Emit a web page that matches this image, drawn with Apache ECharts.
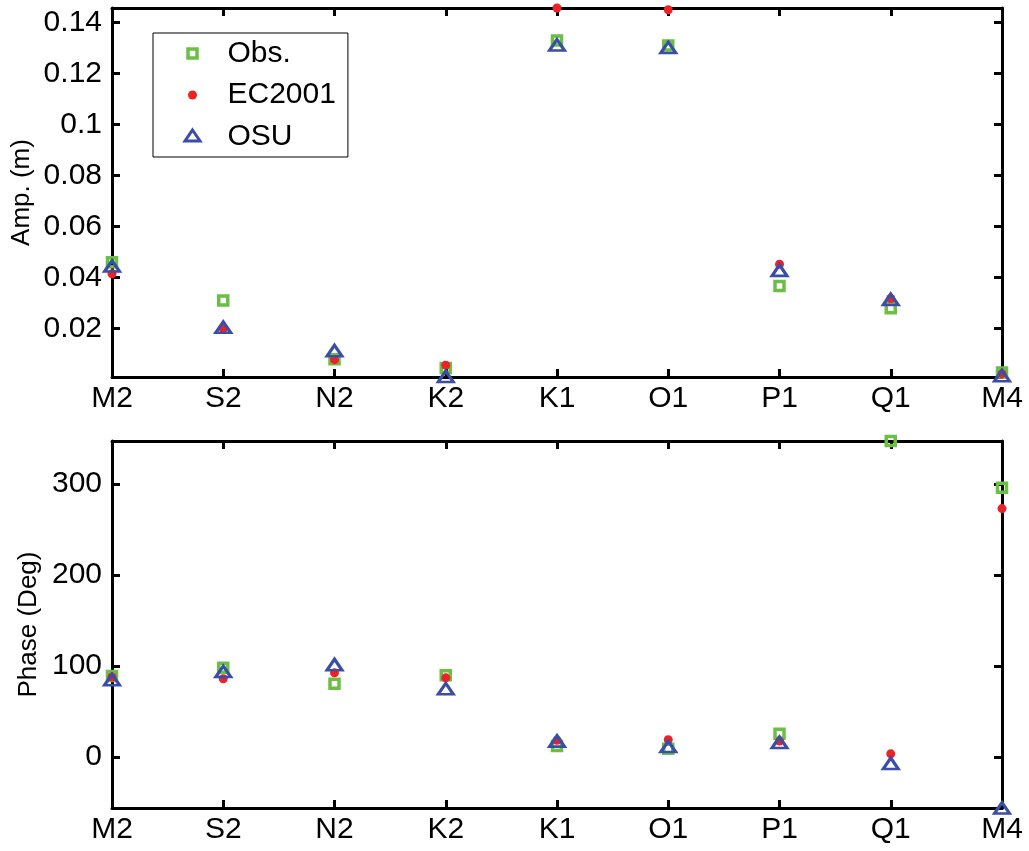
<!DOCTYPE html>
<html>
<head>
<meta charset="utf-8">
<script src="https://cdn.jsdelivr.net/npm/echarts@6/dist/echarts.min.js"></script>
<style>
  html, body { margin: 0; padding: 0; background: #ffffff; }
  #chart { width: 1029px; height: 851px; }
</style>
</head>
<body>
<div id="chart"></div>
<script>
// Tidal constituents along the x axis
const constituents = ['M2', 'S2', 'N2', 'K2', 'K1', 'O1', 'P1', 'Q1', 'M4'];

// Amplitudes (m)
const obsAmp = [0.0460, 0.0310, 0.0080, 0.0045, 0.1330, 0.1310, 0.0367, 0.0280, 0.0028];
const ec2001Amp = [0.0415, 0.0200, 0.0078, 0.0056, 0.1457, 0.1450, 0.0452, 0.0318, 0.0023];
const osuAmp = [0.0445, 0.0205, 0.0113, 0.0012, 0.1312, 0.1302, 0.0428, 0.0314, 0.0015];

// Phases (degrees)
const obsPhase = [89, 98, 80.5, 90, 12, 9, 25.5, 347.3, 296];
const ec2001Phase = [88, 86, 92.5, 87, 18.5, 19, 17.5, 3.5, 273];
const osuPhase = [85, 94, 101.5, 75, 17.5, 11.5, 16, -7, -56];

// Axis extents (tight to the data) and tick labels
const ampRange = [0.001, 0.1457];
const ampTickValues = [0.02, 0.04, 0.06, 0.08, 0.10, 0.12, 0.14];
const ampTickLabels = ['0.02', '0.04', '0.06', '0.08', '0.1', '0.12', '0.14'];
const phaseRange = [-56, 347.3];
const phaseTickValues = [0, 100, 200, 300];
const phaseTickLabels = ['0', '100', '200', '300'];

const FONT = "'Liberation Sans', Arial, Helvetica, sans-serif";
const GREEN = '#6cbf45';
const RED = '#ee2226';
const BLUE = '#3a4ea6';
const LINE_W = 3;

function labelFor(values, labels) {
  return function (v) {
    const i = values.findIndex(t => Math.abs(t - v) < 1e-9);
    return i >= 0 ? labels[i] : '';
  };
}

function categoryAxis(gridIndex, position, showLabels) {
  return {
    type: 'category',
    gridIndex: gridIndex,
    position: position,
    data: constituents,
    boundaryGap: false,
    axisLine: { show: true, onZero: false, lineStyle: { color: '#000', width: LINE_W } },
    axisTick: { show: true, inside: true, length: 8, interval: 0, lineStyle: { color: '#000', width: LINE_W } },
    axisLabel: {
      show: showLabels, interval: 0, margin: 7,
      color: '#000', fontSize: 30, fontFamily: FONT
    },
    splitLine: { show: false }
  };
}

function valueAxis(gridIndex, position, range, tickValues, tickLabels, name, nameGap) {
  const showLabels = position === 'left';
  const axis = {
    type: 'value',
    gridIndex: gridIndex,
    position: position,
    min: range[0],
    max: range[1],
    axisLine: { show: true, onZero: false, lineStyle: { color: '#000', width: LINE_W } },
    axisTick: {
      show: true, inside: true, length: 8, customValues: tickValues,
      lineStyle: { color: '#000', width: LINE_W }
    },
    axisLabel: {
      show: showLabels, margin: 10, customValues: tickValues,
      formatter: labelFor(tickValues, tickLabels),
      color: '#000', fontSize: 30, fontFamily: FONT
    },
    splitLine: { show: false }
  };
  if (name) {
    axis.name = name;
    axis.nameLocation = 'middle';
    axis.nameGap = nameGap;
    axis.nameMoveOverlap = false;
    axis.nameTextStyle = { color: '#000', fontSize: 26, fontFamily: FONT };
  }
  return axis;
}

function scatterSeries(name, values, xIdx, yIdx) {
  const base = {
    name: name,
    type: 'scatter',
    xAxisIndex: xIdx,
    yAxisIndex: yIdx,
    data: values,
    clip: false,
    silent: true,
    emphasis: { disabled: true }
  };
  if (name === 'Obs.') {
    return Object.assign(base, {
      symbol: 'rect', symbolSize: 9,
      itemStyle: { color: 'none', borderColor: GREEN, borderWidth: 3.5, opacity: 1 }
    });
  }
  if (name === 'EC2001') {
    return Object.assign(base, {
      symbol: 'circle', symbolSize: 9,
      itemStyle: { color: RED, borderWidth: 0, opacity: 1 }
    });
  }
  return Object.assign(base, {
    symbol: 'triangle', symbolSize: [15, 11],
    itemStyle: { color: 'none', borderColor: BLUE, borderWidth: 3, borderJoin: 'miter', opacity: 1 }
  });
}

const chart = echarts.init(document.getElementById('chart'), null, { renderer: 'canvas' });

chart.setOption({
  backgroundColor: '#ffffff',
  animation: false,
  grid: [
    { left: 112, right: 27, top: 8, height: 369, outerBoundsMode: 'none', containLabel: false },
    { left: 112, right: 27, top: 441, height: 367, outerBoundsMode: 'none', containLabel: false }
  ],
  xAxis: [
    categoryAxis(0, 'bottom', true),
    categoryAxis(0, 'top', false),
    categoryAxis(1, 'bottom', true),
    categoryAxis(1, 'top', false)
  ],
  yAxis: [
    valueAxis(0, 'left', ampRange, ampTickValues, ampTickLabels, 'Amp. (m)', 77),
    valueAxis(0, 'right', ampRange, ampTickValues, ampTickLabels, null, 0),
    valueAxis(1, 'left', phaseRange, phaseTickValues, phaseTickLabels, 'Phase (Deg)', 70),
    valueAxis(1, 'right', phaseRange, phaseTickValues, phaseTickLabels, null, 0)
  ],
  legend: {
    orient: 'vertical',
    left: 153,
    top: 33,
    padding: [3, 12, 3, 22],
    itemGap: 9,
    itemWidth: 60,
    itemHeight: 30,
    selectedMode: false,
    borderColor: '#000',
    borderWidth: 1,
    backgroundColor: '#fff',
    itemStyle: { opacity: 1 },
    textStyle: { color: '#000', fontSize: 30, fontFamily: FONT, lineHeight: 30 },
    data: [
      {
        name: 'Obs.',
        icon: 'path://M0,0M30,30M10.5,10.5L19.5,10.5L19.5,19.5L10.5,19.5Z',
        itemStyle: { color: 'none', borderColor: GREEN, borderWidth: 3.5, opacity: 1 }
      },
      {
        name: 'EC2001',
        icon: 'path://M0,0M30,30M19.5,15A4.5,4.5,0,1,1,10.5,15A4.5,4.5,0,1,1,19.5,15Z',
        itemStyle: { color: RED, borderWidth: 0, opacity: 1 }
      },
      {
        name: 'OSU',
        icon: 'path://M0,0M30,30M15,8.5L22.5,19.5L7.5,19.5Z',
        itemStyle: { color: 'none', borderColor: BLUE, borderWidth: 3, opacity: 1 }
      }
    ]
  },
  series: [
    scatterSeries('Obs.', obsAmp, 0, 0),
    scatterSeries('EC2001', ec2001Amp, 0, 0),
    scatterSeries('OSU', osuAmp, 0, 0),
    scatterSeries('Obs.', obsPhase, 2, 2),
    scatterSeries('EC2001', ec2001Phase, 2, 2),
    scatterSeries('OSU', osuPhase, 2, 2)
  ]
});
</script>
</body>
</html>
